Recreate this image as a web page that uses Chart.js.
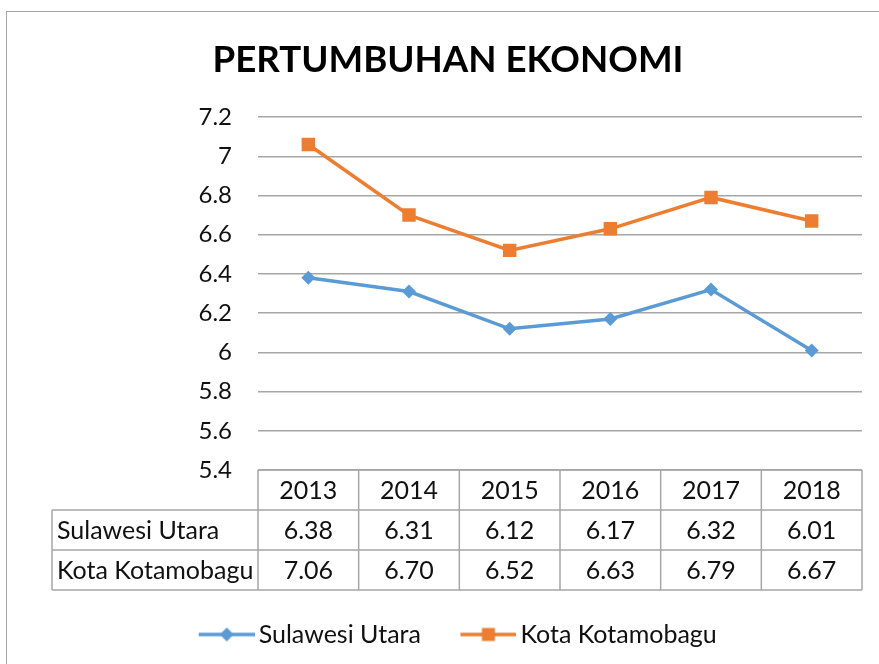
<!DOCTYPE html>
<html>
<head>
<meta charset="utf-8">
<title>Pertumbuhan Ekonomi</title>
<script src="https://cdn.jsdelivr.net/npm/chart.js@4/dist/chart.umd.min.js"></script>
<style>
  html, body { margin: 0; padding: 0; background: #fff; overflow: hidden; }
  #frame { position: absolute; left: 6px; top: 11px; width: 1000px; height: 1000px; border: 1px solid #a6a6a6; }
  #wrap { position: absolute; left: 0; top: 0; width: 879px; height: 664px; }
</style>
</head>
<body>
<div id="frame"></div>
<div id="wrap"><canvas id="growthChart" width="879" height="664"></canvas></div>
<script>
// data
const years = ["2013", "2014", "2015", "2016", "2017", "2018"];
const seriesNames = ["Sulawesi Utara", "Kota Kotamobagu"];
const sulawesiUtara = [6.38, 6.31, 6.12, 6.17, 6.32, 6.01];
const kotaKotamobagu = [7.06, 6.70, 6.52, 6.63, 6.79, 6.67];
const yTicks = [5.4, 5.6, 5.8, 6, 6.2, 6.4, 6.6, 6.8, 7, 7.2];

const blue = "#5B9BD5";
const orange = "#ED7D31";
const textColor = "#111111";
const lineGray = "#a6a6a6";
const fontFamily = "Lato, 'Open Sans', sans-serif";

// legend symbol: line with the marker in the middle (left part left blank on purpose)
function legendIcon(color, shape) {
    const c = document.createElement("canvas");
    c.width = 84;
    c.height = 20;
    const g = c.getContext("2d");
    g.strokeStyle = color;
    g.lineWidth = 3.5;
    g.beginPath();
    g.moveTo(28, 10);
    g.lineTo(84, 10);
    g.stroke();
    g.fillStyle = color;
    g.beginPath();
    if (shape === "diamond") {
        g.moveTo(56 - 7, 10);
        g.lineTo(56, 3);
        g.lineTo(56 + 7, 10);
        g.lineTo(56, 17);
        g.closePath();
    } else {
        g.rect(56 - 6.5, 3.5, 13, 13);
    }
    g.fill();
    return c;
}
const icons = [legendIcon(blue, "diamond"), legendIcon(orange, "square")];

// data table under the plot, drawn from the chart's own labels / datasets
const dataTable = {
    id: "dataTable",
    afterDraw(chart) {
        const { ctx, chartArea } = chart;
        const x = chart.scales.x;
        const labels = chart.data.labels;
        const sets = chart.data.datasets;
        const colW = (x.right - x.left) / labels.length;
        const rowH = 40;
        const top = chartArea.bottom;
        const labelLeft = x.left - 206;
        const bottom = top + rowH * (sets.length + 1);

        ctx.save();
        ctx.strokeStyle = lineGray;
        ctx.lineWidth = 1.5;
        ctx.beginPath();
        // header top line
        ctx.moveTo(x.left, top);
        ctx.lineTo(x.right, top);
        // row lines
        for (let r = 1; r <= sets.length + 1; r++) {
            ctx.moveTo(labelLeft, top + rowH * r);
            ctx.lineTo(x.right, top + rowH * r);
        }
        // column lines
        for (let i = 0; i <= labels.length; i++) {
            ctx.moveTo(x.left + colW * i, top);
            ctx.lineTo(x.left + colW * i, bottom);
        }
        ctx.moveTo(labelLeft, top + rowH);
        ctx.lineTo(labelLeft, bottom);
        ctx.stroke();

        ctx.fillStyle = textColor;
        ctx.font = "25px " + fontFamily;
        ctx.textBaseline = "middle";
        ctx.textAlign = "center";
        labels.forEach((lab, i) => {
            ctx.fillText(lab, x.getPixelForTick(i), top + rowH / 2 + 1);
        });
        sets.forEach((ds, r) => {
            const cy = top + rowH * (r + 1) + rowH / 2 + 1;
            ctx.textAlign = "left";
            ctx.fillText(ds.label, labelLeft + 5, cy);
            ctx.textAlign = "center";
            ds.data.forEach((v, i) => {
                ctx.fillText(v.toFixed(2), x.getPixelForTick(i), cy);
            });
        });
        ctx.restore();
    },
};

const ctx = document.getElementById("growthChart");

var growthChart = new Chart(ctx, {
    type: "line",
    data: {
        labels: years,
        datasets: [
            {
                label: seriesNames[0],
                data: sulawesiUtara,
                borderColor: blue,
                backgroundColor: blue,
                borderWidth: 3.5,
                pointStyle: "rectRot",
                pointRadius: 7,
                pointHoverRadius: 7,
                pointBorderWidth: 0,
            },
            {
                label: seriesNames[1],
                data: kotaKotamobagu,
                borderColor: orange,
                backgroundColor: orange,
                borderWidth: 3.5,
                pointStyle: "rect",
                pointRadius: 9.5,
                pointHoverRadius: 9.5,
                pointBorderWidth: 0,
            },
        ],
    },
    options: {
        responsive: false,
        animation: false,
        layout: { padding: { left: 34, right: 17, top: 0, bottom: 7 } },
        scales: {
            x: {
                offset: true,
                grid: { display: false },
                border: { display: false },
                ticks: { display: false },
                afterFit: (s) => { s.height = 132; },
            },
            y: {
                min: 5.4,
                max: 7.2,
                afterBuildTicks: (axis) => { axis.ticks = yTicks.map((v) => ({ value: v })); },
                afterFit: (s) => { s.width = 224; },
                grid: { color: lineGray, lineWidth: 1.5, drawTicks: false },
                border: { display: false },
                ticks: {
                    padding: 26,
                    color: textColor,
                    font: { family: fontFamily, size: 24 },
                    callback: (v) => String(+Number(v).toFixed(1)),
                },
            },
        },
        plugins: {
            title: {
                display: true,
                text: "PERTUMBUHAN EKONOMI",
                color: "#000",
                font: { family: fontFamily, size: 36.7, weight: "bold", lineHeight: 1.2 },
                padding: { top: 38, bottom: 35 },
            },
            legend: {
                position: "bottom",
                labels: {
                    usePointStyle: true,
                    pointStyleWidth: 67,
                    padding: 20,
                    color: textColor,
                    font: { family: fontFamily, size: 25 },
                    generateLabels: (chart) => chart.data.datasets.map((ds, i) => ({
                        text: ds.label,
                        pointStyle: icons[i],
                        fillStyle: ds.borderColor,
                        strokeStyle: ds.borderColor,
                        lineWidth: 0,
                        hidden: false,
                        datasetIndex: i,
                        fontColor: textColor,
                    })),
                },
            },
            tooltip: { enabled: false },
        },
    },
    plugins: [dataTable],
});
</script>
</body>
</html>
